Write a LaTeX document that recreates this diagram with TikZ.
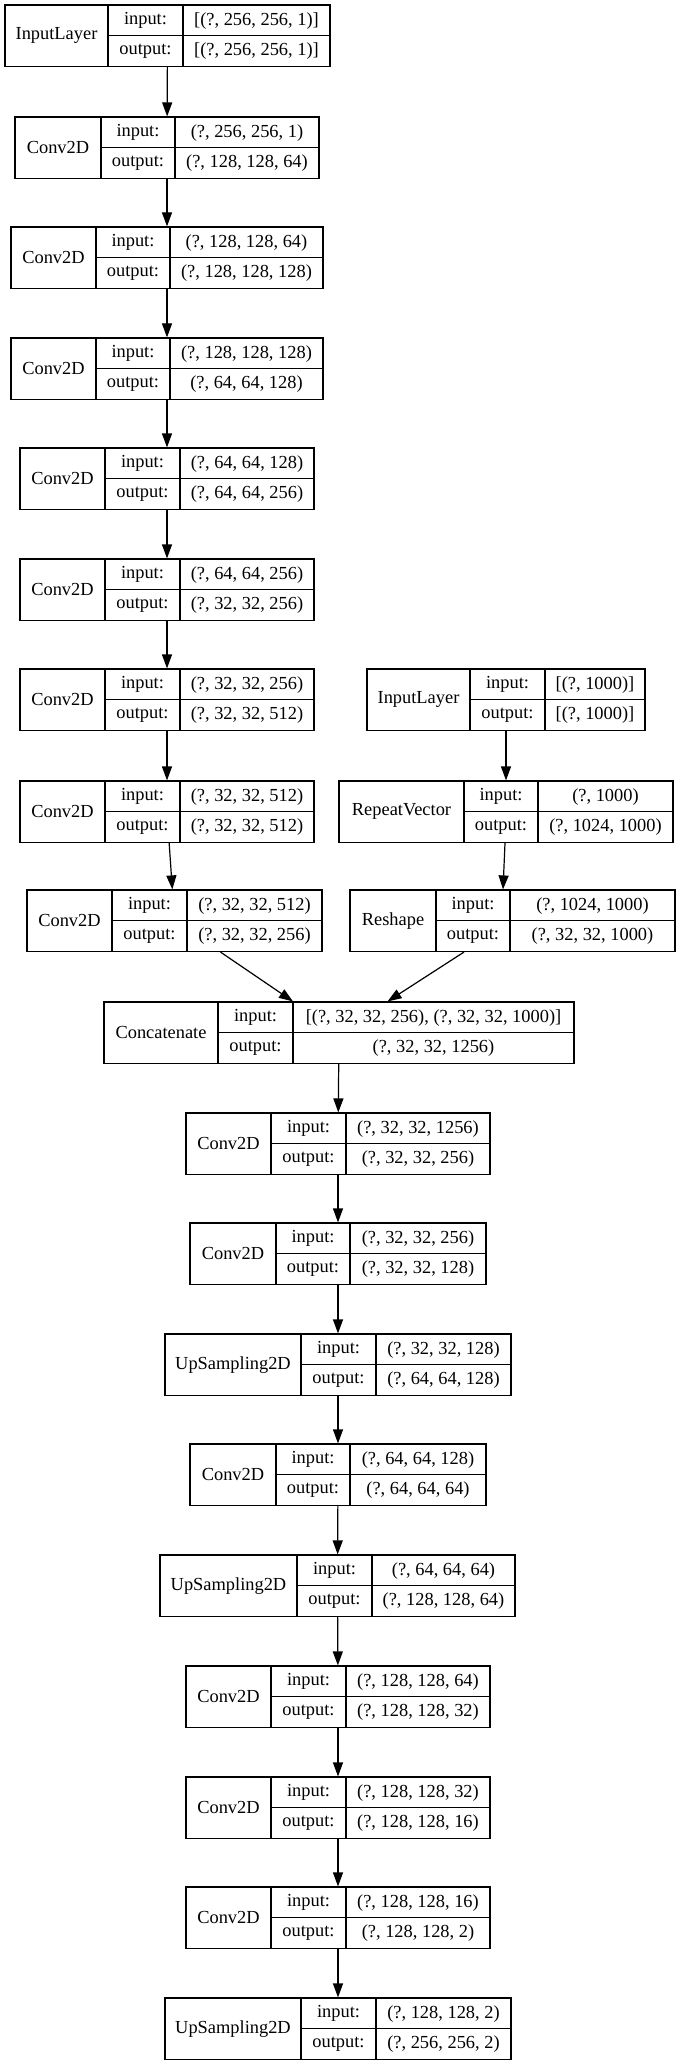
\documentclass[tikz,border=0pt]{standalone}
\usepackage{fontspec}
\setmainfont{Liberation Serif}
\usetikzlibrary{arrows.meta}

\tikzset{
  layerbox/.style={draw, line width=0.6pt, inner sep=0pt},
  cell/.style={line width=0.6pt},
  txt/.style={inner sep=0pt, font=\fontsize{9.2}{11}\selectfont},
  flow/.style={->, line width=0.6pt}
}

% one keras layer: name, left, col1, col2, right, top, title, input, output
\newcommand{\kerasbox}[9]{%
  \pgfmathsetmacro{\kbot}{#6+61.5}%
  \pgfmathsetmacro{\kmid}{#6+30.75}%
  \node[layerbox, minimum width={(#5-#2)*0.5pt}, minimum height=30.75pt] (#1) at ({(#2+#5)/2},\kmid) {};
  \draw[cell] (#3,#6) -- (#3,\kbot) (#4,#6) -- (#4,\kbot) (#3,\kmid) -- (#5,\kmid);
  \node[txt] (#1-name) at ({(#2+#3)/2},\kmid) {#7};
  \node[txt] (#1-il) at ({(#3+#4)/2},{#6+15.6}) {input:};
  \node[txt] (#1-ol) at ({(#3+#4)/2},{#6+46.3}) {output:};
  \node[txt] (#1-iv) at ({(#4+#5)/2},{#6+15.6}) {#8};
  \node[txt] (#1-ov) at ({(#4+#5)/2},{#6+46.3}) {#9};
}

\begin{document}
\begin{tikzpicture}[x=0.5pt, y=-0.5pt, >={Triangle[length=7pt,width=5pt]}]
\fill[white] (0,0) rectangle (679,2065);
\useasboundingbox (0,0) rectangle (679,2065);

% encoder branch
\kerasbox{in1}{5}{108}{183}{330}{5}{InputLayer}{[(?, 256, 256, 1)]}{[(?, 256, 256, 1)]}
\kerasbox{c1}{15}{101}{175}{319}{117}{Conv2D}{(?, 256, 256, 1)}{(?, 128, 128, 64)}
\kerasbox{c2}{11}{96}{170}{323}{227}{Conv2D}{(?, 128, 128, 64)}{(?, 128, 128, 128)}
\kerasbox{c3}{11}{96}{170}{323}{338}{Conv2D}{(?, 128, 128, 128)}{(?, 64, 64, 128)}
\kerasbox{c4}{20}{105}{180}{314}{448}{Conv2D}{(?, 64, 64, 128)}{(?, 64, 64, 256)}
\kerasbox{c5}{20}{105}{180}{314}{559}{Conv2D}{(?, 64, 64, 256)}{(?, 32, 32, 256)}
\kerasbox{c6}{20}{105}{180}{314}{669}{Conv2D}{(?, 32, 32, 256)}{(?, 32, 32, 512)}
\kerasbox{c7}{20}{105}{180}{314}{781}{Conv2D}{(?, 32, 32, 512)}{(?, 32, 32, 512)}
\kerasbox{c8}{27}{112}{187}{322}{890}{Conv2D}{(?, 32, 32, 512)}{(?, 32, 32, 256)}

% embedding branch
\kerasbox{in2}{367}{470}{545}{645}{669}{InputLayer}{[(?, 1000)]}{[(?, 1000)]}
\kerasbox{rep}{339}{464}{538}{673}{781}{RepeatVector}{(?, 1000)}{(?, 1024, 1000)}
\kerasbox{resh}{350}{436}{510}{675}{890}{Reshape}{(?, 1024, 1000)}{(?, 32, 32, 1000)}

% fusion and decoder
\kerasbox{cat}{104}{218}{293}{574}{1002}{Concatenate}{[(?, 32, 32, 256), (?, 32, 32, 1000)]}{(?, 32, 32, 1256)}
\kerasbox{c9}{186}{271}{346}{490}{1113}{Conv2D}{(?, 32, 32, 1256)}{(?, 32, 32, 256)}
\kerasbox{c10}{190}{276}{350}{486}{1223}{Conv2D}{(?, 32, 32, 256)}{(?, 32, 32, 128)}
\kerasbox{up1}{165}{301}{376}{511}{1334}{UpSampling2D}{(?, 32, 32, 128)}{(?, 64, 64, 128)}
\kerasbox{c11}{190}{276}{350}{486}{1444}{Conv2D}{(?, 64, 64, 128)}{(?, 64, 64, 64)}
\kerasbox{up2}{160}{297}{372}{515}{1555}{UpSampling2D}{(?, 64, 64, 64)}{(?, 128, 128, 64)}
\kerasbox{c12}{186}{271}{346}{490}{1666}{Conv2D}{(?, 128, 128, 64)}{(?, 128, 128, 32)}
\kerasbox{c13}{186}{271}{346}{490}{1777}{Conv2D}{(?, 128, 128, 32)}{(?, 128, 128, 16)}
\kerasbox{c14}{186}{271}{346}{490}{1887}{Conv2D}{(?, 128, 128, 16)}{(?, 128, 128, 2)}
\kerasbox{up3}{165}{301}{376}{511}{1998}{UpSampling2D}{(?, 128, 128, 2)}{(?, 256, 256, 2)}

\foreach \a/\b in {in1/c1, c1/c2, c2/c3, c3/c4, c4/c5, c5/c6, c6/c7, c7/c8, c8/cat,
  in2/rep, resh/cat, cat/c9, c9/c10, c10/up1, up1/c11, c11/up2, up2/c12,
  c12/c13, c13/c14, c14/up3}
  \draw[flow] (\a) -- (\b);
\draw[flow] ([xshift=-0.5pt]rep.south) -- ([xshift=-4.75pt]resh.north);

\end{tikzpicture}
\end{document}
